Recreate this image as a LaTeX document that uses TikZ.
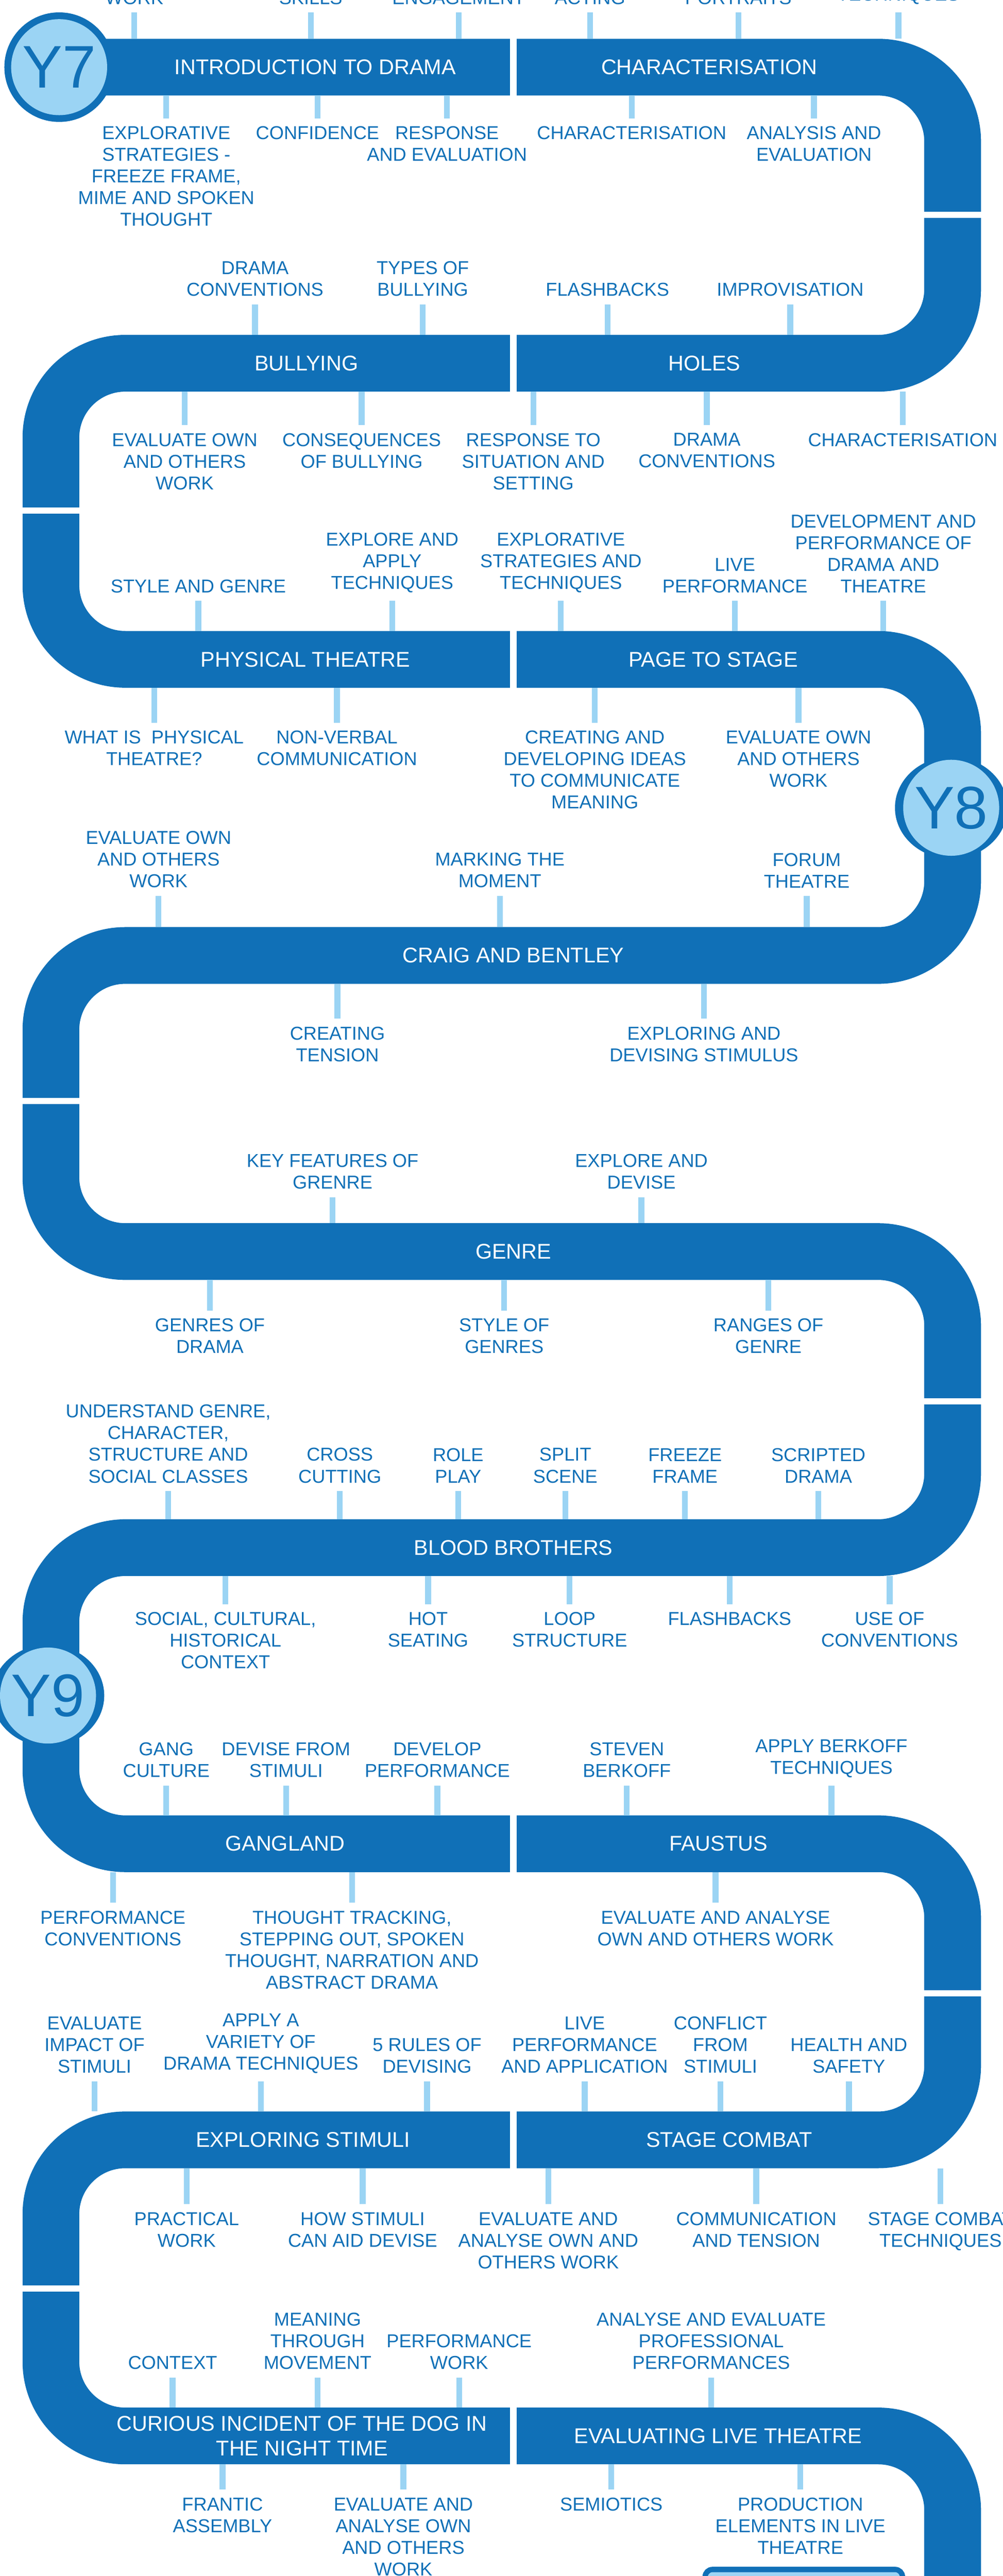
\documentclass[tikz,border=0pt]{standalone}
\usepackage{fontspec}
\setmainfont{Liberation Sans}
\usetikzlibrary{positioning}
\definecolor{deepblue}{RGB}{16,112,183}
\definecolor{paleblue}{RGB}{155,212,244}
\tikzset{
	roadway/.style={draw=deepblue, line width=1.17cm, rounded corners=1.535cm},
	stem/.style={draw=paleblue, line width=0.12cm},
	topic/.style={text=deepblue, font=\fontsize{10.95}{12.7}\selectfont, align=center, inner sep=0pt, outer sep=0.17cm},
	unit/.style={text=white, font=\fontsize{12.5}{14.5}\selectfont, align=center},
	year/.style={circle, fill=paleblue, text=deepblue, minimum size=1.98cm, inner sep=0pt, font=\fontsize{35.3}{40}\selectfont}
}
\begin{document}
\begin{tikzpicture}
	\useasboundingbox (0,0) rectangle (20.68,-53.13);
	\draw[roadway] (1.22,-1.385) -- (19.65,-1.385) -- (19.65,-7.492) -- (1.05,-7.492) -- (1.05,-13.599) -- (19.65,-13.599) -- (19.65,-19.706) -- (1.05,-19.706) -- (1.05,-25.813) -- (19.65,-25.813) -- (19.65,-31.92) -- (1.05,-31.92) -- (1.05,-38.027) -- (19.65,-38.027) -- (19.65,-44.134) -- (1.05,-44.134) -- (1.05,-50.241) -- (19.65,-50.241) -- (19.65,-54.5);
	\foreach \y in {-1.385,-7.492,-13.599,-38.027,-44.134,-50.241}
		\fill[white] (10.52,\y-0.6) rectangle (10.66,\y+0.6);
	\foreach \y in {-4.43,-28.9,-41.11}
		\fill[white] (18.9,\y-0.065) rectangle (20.4,\y+0.065);
	\foreach \y in {-10.53,-22.71,-47.2}
		\fill[white] (0.3,\y-0.065) rectangle (1.8,\y+0.065);

	\node[unit] (intro) at (6.50,-1.385) {INTRODUCTION TO DRAMA};
	\node[unit] (charac) at (14.63,-1.385) {CHARACTERISATION};
	\node[unit] (bully) at (6.32,-7.492) {BULLYING};
	\node[unit] (holes) at (14.53,-7.492) {HOLES};
	\node[unit] (physical) at (6.30,-13.599) {PHYSICAL THEATRE};
	\node[unit] (page) at (14.71,-13.599) {PAGE TO STAGE};
	\node[unit] (craig) at (10.59,-19.706) {CRAIG AND BENTLEY};
	\node[unit] (genre) at (10.59,-25.813) {GENRE};
	\node[unit] (blood) at (10.59,-31.92) {BLOOD BROTHERS};
	\node[unit] (gang) at (5.88,-38.027) {GANGLAND};
	\node[unit] (faustus) at (14.82,-38.027) {FAUSTUS};
	\node[unit] (stimuli) at (6.25,-44.134) {EXPLORING STIMULI};
	\node[unit] (combat) at (15.04,-44.134) {STAGE COMBAT};
	\node[unit] (curious) at (6.23,-50.241) {CURIOUS INCIDENT OF THE DOG IN\\THE NIGHT TIME};
	\node[unit] (live) at (14.81,-50.241) {EVALUATING LIVE THEATRE};

	\foreach \x/\txt [count=\i] in {2.77/WORK, 6.41/SKILLS, 9.46/ENGAGEMENT, 12.17/ACTING, 15.23/PORTRAITS, 18.53/TECHNIQUES}{
		\coordinate (t1-\i) at (\x,-0.8);
		\node[topic, above=0.54cm of t1-\i] (up1-\i) {\txt};
		\draw[stem] (t1-\i) -- (up1-\i);
	}
	\foreach \x/\txt [count=\i] in {3.43/EXPLORATIVE\\STRATEGIES -\\FREEZE FRAME{,}\\MIME AND SPOKEN\\THOUGHT, 6.55/CONFIDENCE, 9.22/RESPONSE\\AND EVALUATION, 13.03/CHARACTERISATION, 16.79/ANALYSIS AND\\EVALUATION}{
		\coordinate (b1-\i) at (\x,-1.97);
		\node[topic, below=0.47cm of b1-\i] (dn1-\i) {\txt};
		\draw[stem] (b1-\i) -- (dn1-\i);
	}
	\foreach \x/\txt [count=\i] in {5.26/DRAMA\\CONVENTIONS, 8.72/TYPES OF\\BULLYING, 12.53/FLASHBACKS, 16.30/IMPROVISATION}{
		\coordinate (t2-\i) at (\x,-6.907);
		\node[topic, above=0.63cm of t2-\i] (up2-\i) {\txt};
		\draw[stem] (t2-\i) -- (up2-\i);
	}
	\foreach \x/\txt [count=\i] in {3.81/EVALUATE OWN\\AND OTHERS\\WORK, 7.46/CONSEQUENCES\\OF BULLYING, 11.00/RESPONSE TO\\SITUATION AND\\SETTING, 14.58/DRAMA\\CONVENTIONS, 18.62/CHARACTERISATION}{
		\coordinate (b2-\i) at (\x,-8.077);
		\node[topic, below=0.69cm of b2-\i] (dn2-\i) {\txt};
		\draw[stem] (b2-\i) -- (dn2-\i);
	}
	\foreach \x/\txt [count=\i] in {4.09/STYLE AND GENRE, 8.09/EXPLORE AND\\APPLY\\TECHNIQUES, 11.57/EXPLORATIVE\\STRATEGIES AND\\TECHNIQUES, 15.16/LIVE\\PERFORMANCE, 18.22/DEVELOPMENT AND\\PERFORMANCE OF\\DRAMA AND\\THEATRE}{
		\coordinate (t3-\i) at (\x,-13.014);
		\node[topic, above=0.62cm of t3-\i] (up3-\i) {\txt};
		\draw[stem] (t3-\i) -- (up3-\i);
	}
	\foreach \x/\txt [count=\i] in {3.18/WHAT IS~ PHYSICAL\\THEATRE?, 6.95/NON-VERBAL\\COMMUNICATION, 12.27/CREATING AND\\DEVELOPING IDEAS\\TO COMMUNICATE\\MEANING, 16.47/EVALUATE OWN\\AND OTHERS\\WORK}{
		\coordinate (b3-\i) at (\x,-14.184);
		\node[topic, below=0.72cm of b3-\i] (dn3-\i) {\txt};
		\draw[stem] (b3-\i) -- (dn3-\i);
	}
	\foreach \x/\txt [count=\i] in {3.27/EVALUATE OWN\\AND OTHERS\\WORK, 10.31/MARKING THE\\MOMENT, 16.64/FORUM\\THEATRE}{
		\coordinate (t4-\i) at (\x,-19.121);
		\node[topic, above=0.64cm of t4-\i] (up4-\i) {\txt};
		\draw[stem] (t4-\i) -- (up4-\i);
	}
	\foreach \x/\txt [count=\i] in {6.96/CREATING\\TENSION, 14.52/EXPLORING AND\\DEVISING STIMULUS}{
		\coordinate (b4-\i) at (\x,-20.291);
		\node[topic, below=0.72cm of b4-\i] (dn4-\i) {\txt};
		\draw[stem] (b4-\i) -- (dn4-\i);
	}
	\foreach \x/\txt [count=\i] in {6.86/KEY FEATURES OF\\GRENRE, 13.23/EXPLORE AND\\DEVISE}{
		\coordinate (t5-\i) at (\x,-25.228);
		\node[topic, above=0.53cm of t5-\i] (up5-\i) {\txt};
		\draw[stem] (t5-\i) -- (up5-\i);
	}
	\foreach \x/\txt [count=\i] in {4.33/GENRES OF\\DRAMA, 10.40/STYLE OF\\GENRES, 15.85/RANGES OF\\GENRE}{
		\coordinate (b5-\i) at (\x,-26.398);
		\node[topic, below=0.63cm of b5-\i] (dn5-\i) {\txt};
		\draw[stem] (b5-\i) -- (dn5-\i);
	}
	\foreach \x/\txt [count=\i] in {3.47/UNDERSTAND GENRE{,}\\CHARACTER{,}\\STRUCTURE AND\\SOCIAL CLASSES, 7.01/CROSS\\CUTTING, 9.45/ROLE\\PLAY, 11.66/SPLIT\\SCENE, 14.13/FREEZE\\FRAME, 16.88/SCRIPTED\\DRAMA}{
		\coordinate (t6-\i) at (\x,-31.335);
		\node[topic, above=0.58cm of t6-\i] (up6-\i) {\txt};
		\draw[stem] (t6-\i) -- (up6-\i);
	}
	\foreach \x/\txt [count=\i] in {4.65/SOCIAL{,} CULTURAL{,}\\HISTORICAL\\CONTEXT, 8.83/HOT\\SEATING, 11.75/LOOP\\STRUCTURE, 15.05/FLASHBACKS, 18.35/USE OF\\CONVENTIONS}{
		\coordinate (b6-\i) at (\x,-32.505);
		\node[topic, below=0.58cm of b6-\i] (dn6-\i) {\txt};
		\draw[stem] (b6-\i) -- (dn6-\i);
	}
	\foreach \x/\txt [count=\i] in {3.43/GANG\\CULTURE, 5.90/DEVISE FROM\\STIMULI, 9.02/DEVELOP\\PERFORMANCE, 12.93/STEVEN\\BERKOFF, 17.15/APPLY BERKOFF\\TECHNIQUES}{
		\coordinate (t7-\i) at (\x,-37.442);
		\node[topic, above=0.61cm of t7-\i] (up7-\i) {\txt};
		\draw[stem] (t7-\i) -- (up7-\i);
	}
	\foreach \x/\txt [count=\i] in {2.33/PERFORMANCE\\CONVENTIONS, 7.26/THOUGHT TRACKING{,}\\STEPPING OUT{,} SPOKEN\\THOUGHT{,} NARRATION AND\\ABSTRACT DRAMA, 14.76/EVALUATE AND ANALYSE\\OWN AND OTHERS WORK}{
		\coordinate (b7-\i) at (\x,-38.612);
		\node[topic, below=0.63cm of b7-\i] (dn7-\i) {\txt};
		\draw[stem] (b7-\i) -- (dn7-\i);
	}
	\foreach \x/\txt [count=\i] in {1.95/EVALUATE\\IMPACT OF\\STIMULI, 5.38/APPLY A\\VARIETY OF\\DRAMA TECHNIQUES, 8.81/5 RULES OF\\DEVISING, 12.06/LIVE\\PERFORMANCE\\AND APPLICATION, 14.86/CONFLICT\\FROM\\STIMULI, 17.51/HEALTH AND\\SAFETY}{
		\coordinate (t8-\i) at (\x,-43.549);
		\node[topic, above=0.62cm of t8-\i] (up8-\i) {\txt};
		\draw[stem] (t8-\i) -- (up8-\i);
	}
	\foreach \x/\txt [count=\i] in {3.85/PRACTICAL\\WORK, 7.48/HOW STIMULI\\CAN AID DEVISE, 11.31/EVALUATE AND\\ANALYSE OWN AND\\OTHERS WORK, 15.60/COMMUNICATION\\AND TENSION, 19.40/STAGE COMBAT\\TECHNIQUES}{
		\coordinate (b8-\i) at (\x,-44.719);
		\node[topic, below=0.74cm of b8-\i] (dn8-\i) {\txt};
		\draw[stem] (b8-\i) -- (dn8-\i);
	}
	\foreach \x/\txt [count=\i] in {3.56/CONTEXT, 6.55/MEANING\\THROUGH\\MOVEMENT, 9.47/PERFORMANCE\\WORK, 14.67/ANALYSE AND EVALUATE\\PROFESSIONAL\\PERFORMANCES}{
		\coordinate (t9-\i) at (\x,-49.656);
		\node[topic, above=0.62cm of t9-\i] (up9-\i) {\txt};
		\draw[stem] (t9-\i) -- (up9-\i);
	}
	\foreach \x/\txt [count=\i] in {4.59/FRANTIC\\ASSEMBLY, 8.32/EVALUATE AND\\ANALYSE OWN\\AND OTHERS\\WORK, 12.61/SEMIOTICS, 16.51/PRODUCTION\\ELEMENTS IN LIVE\\THEATRE}{
		\coordinate (b9-\i) at (\x,-50.826);
		\node[topic, below=0.52cm of b9-\i] (dn9-\i) {\txt};
		\draw[stem] (b9-\i) -- (dn9-\i);
	}

	\fill[deepblue] (1.22,-1.385) circle (1.13);
	\node[year] (y7) at (1.22,-1.385) {Y7};
	\fill[deepblue] (19.62,-16.66) ellipse [x radius=1.16, y radius=1.05];
	\node[year] (y8) at (19.62,-16.66) {Y8};
	\fill[deepblue] (0.99,-34.97) ellipse [x radius=1.16, y radius=1.05];
	\node[year] (y9) at (0.99,-34.97) {Y9};
	\node[draw=deepblue, line width=0.11cm, fill=paleblue, rounded corners=0.15cm, minimum width=4.07cm, minimum height=1.2cm, anchor=north] (y10box) at (16.58,-52.94) {};
\end{tikzpicture}
\end{document}
